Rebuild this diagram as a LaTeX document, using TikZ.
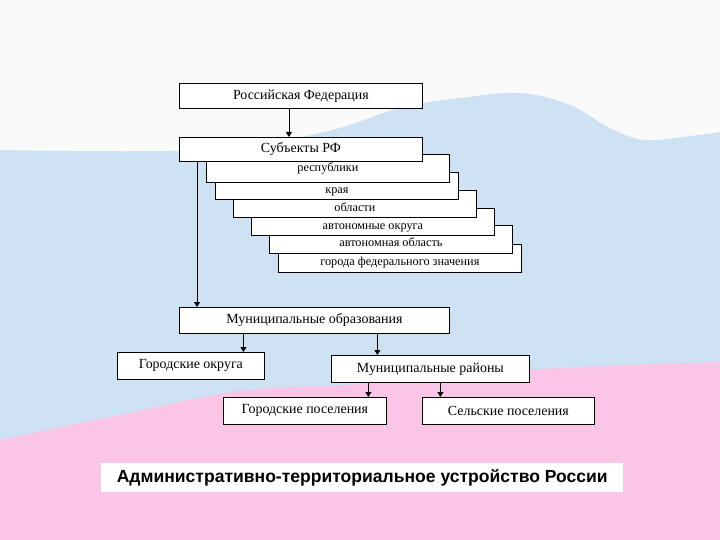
\documentclass[tikz,border=0pt]{standalone}
\usepackage{fontspec}
\setmainfont{Liberation Serif}
\newfontfamily\titlefont{Liberation Sans}
\usetikzlibrary{arrows.meta,positioning,calc}

\definecolor{flagwhite}{RGB}{250,250,251}
\definecolor{flagblue}{RGB}{207,226,243}
\definecolor{flagpink}{RGB}{250,197,230}

\tikzset{
  box/.style={draw, fill=white, line width=0.8bp, inner sep=0pt, anchor=north west,
    minimum height=26bp, font=\fontsize{14}{16}\selectfont},
  tier/.style={box, minimum width=243bp, minimum height=27bp, text height=17bp,
    text depth=2bp, font=\fontsize{12.3}{14}\selectfont},
  link/.style={line width=0.8bp, -{Triangle[length=5bp,width=6bp]}}
}

\begin{document}
\begin{tikzpicture}[x=1bp,y=-1bp]
		\useasboundingbox (0,0) rectangle (720,540);
		% flag in the background
		\fill[flagwhite] (0,0) rectangle (720,540);
		\fill[flagblue] plot[smooth, tension=.6] coordinates {(0,150) (200,150) (320,133) (400,108) (460,98) (520,93) (570,105) (610,128) (645,140) (690,136) (720,132)}
			-- (720,540) -- (0,540) -- cycle;
		\fill[flagpink] plot[smooth, tension=.6] coordinates {(0,440) (120,415) (240,391) (360,384) (500,372) (600,366) (720,362)}
			-- (720,540) -- (0,540) -- cycle;
		
		\node[box, minimum width=243bp, minimum height=25bp] (rf) at (179,83) {Российская Федерация};
		
		% subjects, from the back to the front
		\node[tier, minimum height=28bp] (city) at (278,244) {города федерального значения};
		\node[tier, minimum height=28bp] (ao) at (269,225) {автономная область};
		\node[tier] (aokr) at (251,208) {автономные округа};
		\node[tier] (obl) at (233,190) {области};
		\node[tier] (kray) at (215,172) {края};
		\node[tier, minimum height=28bp, text height=9bp] (rep) at (206,154) {республики};
		\node[box, minimum width=243bp, minimum height=24bp] (subj) at (179,137) {Субъекты РФ};
		
		\node[box, minimum width=270bp] (mun) at (179,307) {Муниципальные образования};
		\node[box, minimum width=147bp, minimum height=27bp] (go) at (117,352) {Городские округа};
		\node[box, minimum width=198bp, minimum height=27bp] (mr) at (331,355) {Муниципальные районы};
		\node[box, minimum width=163bp, minimum height=27bp] (gp) at (223,397) {Городские поселения};
		\node[box, minimum width=172bp, minimum height=27bp] (sp) at (422,397) {Сельские поселения};
		
		\draw[link] ([xshift=-12bp]rf.south) -- ([xshift=-12bp]rf.south |- subj.north);
		\draw[link] ([xshift=18bp]subj.south west) -- ([xshift=18bp]subj.south west |- mun.north);
		\draw[link] ([xshift=-71bp]mun.south) -- ([xshift=-71bp]mun.south |- go.north);
		\draw[link] ([xshift=63bp]mun.south) -- ([xshift=63bp]mun.south |- mr.north);
		\draw[link] ([xshift=-62bp]mr.south) -- ([xshift=-62bp]mr.south |- gp.north);
		\draw[link] ([xshift=10bp]mr.south) -- ([xshift=10bp]mr.south |- sp.north);
		
		% caption
		\node[fill=white, anchor=north west, minimum width=522bp, minimum height=29bp, inner sep=0pt,
			font=\titlefont\bfseries\fontsize{17.6}{19}\selectfont] (title) at (101,463)
			{Административно-территориальное устройство России};
	\end{tikzpicture}
\end{document}
